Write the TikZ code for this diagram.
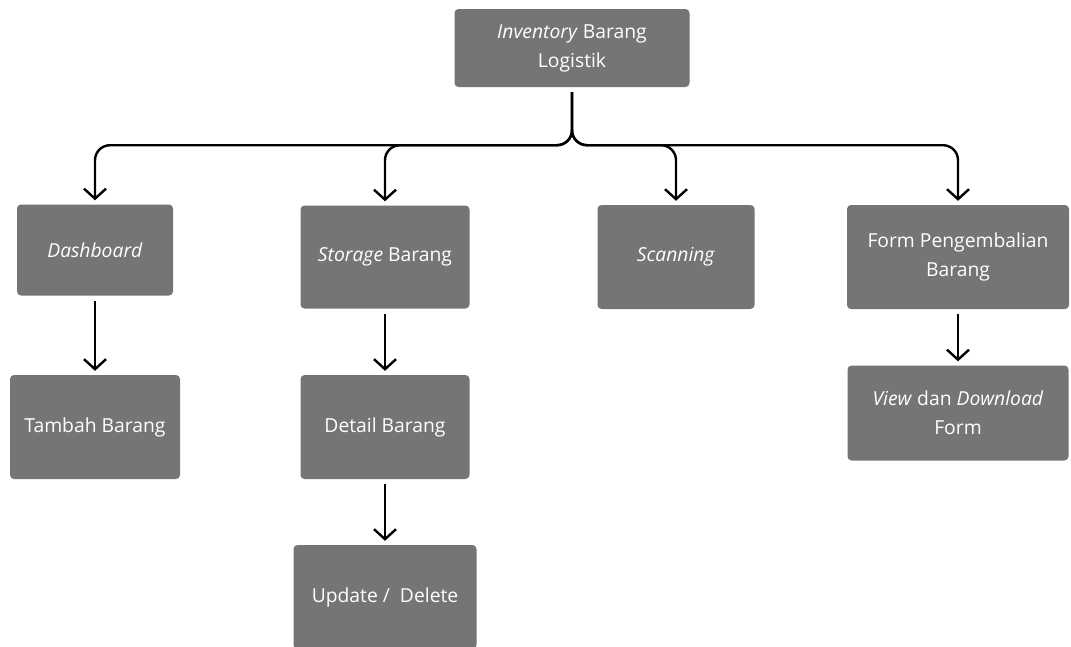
\documentclass[tikz,border=0pt]{standalone}
\usepackage{fontspec}
\setmainfont{Open Sans}
\usetikzlibrary{arrows.meta}
\definecolor{boxgray}{RGB}{117,117,117}

\begin{document}
\begin{tikzpicture}[x=1pt,y=-1pt,
  menu/.style={fill=boxgray, rounded corners=4pt, text=white, align=center,
               inner sep=0pt, font=\fontsize{19.3}{29}\selectfont},
  conn/.style={line width=2.4pt, -{Straight Barb[length=10pt,width=22pt,line width=2.4pt]},
               shorten <=5pt, shorten >=4pt},
  branch/.style={conn, rounded corners=15pt}
]
\useasboundingbox (0,0) rectangle (1071,646);

%---------------------------------------
% Root
%---------------------------------------
\node[menu, minimum width=235pt, minimum height=78pt] (root) at (572,48)
  {\textit{Inventory} Barang\\Logistik};

%---------------------------------------
% First level
%---------------------------------------
\node[menu, minimum width=156pt, minimum height=91pt]  (dash)    at (95,250)  {\textit{Dashboard}};
\node[menu, minimum width=169pt, minimum height=103pt] (storage) at (385,257) {\textit{Storage} Barang};
\node[menu, minimum width=157pt, minimum height=104pt] (scan)    at (676,257) {\textit{Scanning}};
\node[menu, minimum width=222pt, minimum height=104pt] (form)    at (958,257) {Form Pengembalian\\Barang};

%---------------------------------------
% Second and third level
%---------------------------------------
\node[menu, minimum width=170pt, minimum height=104pt] (tambah) at (95,427)  {Tambah Barang};
\node[menu, minimum width=169pt, minimum height=104pt] (detail) at (385,427) {Detail Barang};
\node[menu, minimum width=183pt, minimum height=104pt] (update) at (385,597) {Update /\ \ Delete};
\node[menu, minimum width=221pt, minimum height=95pt]  (view)   at (958,413) {\textit{View} dan \textit{Download}\\Form};

% Branches from root
\draw[branch] (root.south) -- ++(0,58) -| (dash.north);
\draw[branch] (root.south) -- ++(0,58) -| (storage.north);
\draw[branch] (root.south) -- ++(0,58) -| (scan.north);
\draw[branch] (root.south) -- ++(0,58) -| (form.north);

% Sub menus
\draw[conn] (dash.south) -- (tambah.north);
\draw[conn] (storage.south) -- (detail.north);
\draw[conn] (detail.south) -- (update.north);
\draw[conn] (form.south) -- (view.north);

\end{tikzpicture}
\end{document}
